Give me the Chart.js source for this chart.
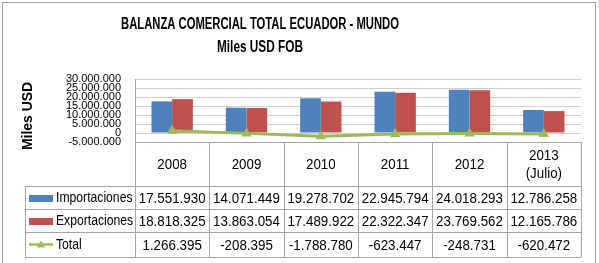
<!DOCTYPE html>
<html><head><meta charset="utf-8">
<script src="https://cdn.jsdelivr.net/npm/chart.js@4.4.0/dist/chart.umd.min.js"></script>
<style>html,body{margin:0;padding:0;background:#fff;overflow:hidden}canvas{display:block}</style>
</head><body>
<canvas id="c" width="599" height="263"></canvas>
<script>
const categories = ['2008', '2009', '2010', '2011', '2012', ['2013', '(Julio)']];
const importaciones = [17551930, 14071449, 19278702, 22945794, 24018293, 12786258];
const exportaciones = [18818325, 13863054, 17489922, 22322347, 23769562, 12165786];
const total = [1266395, -208395, -1788780, -623447, -248731, -620472];
const yTickValues = [-5000000, 0, 5000000, 10000000, 15000000, 20000000, 25000000, 30000000];
const titleLines = ['BALANZA COMERCIAL TOTAL ECUADOR - MUNDO', 'Miles USD FOB'];
const yAxisTitle = 'Miles USD';
const seriesNames = ['Importaciones', 'Exportaciones', 'Total'];
const colors = ['#4F81BD', '#C0504D', '#9BBB59'];

function fmt(v) {
  const s = Math.abs(Math.round(v)).toString().replace(/\B(?=(\d{3})+(?!\d))/g, '.');
  return (v < 0 ? '-' : '') + s;
}

const SANS = '"Liberation Sans", Arial, sans-serif';

function squeezeText(ctx, text, x, y, sx, align) {
  ctx.save();
  ctx.translate(x, y);
  ctx.scale(sx, 1);
  ctx.textAlign = align;
  ctx.fillText(text, 0, 0);
  ctx.restore();
}

const decorPlugin = {
  id: 'decor',
  beforeDraw(chart) {
    const ctx = chart.ctx;
    ctx.save();
    ctx.fillStyle = '#fff';
    ctx.fillRect(0, 0, chart.width, chart.height);
    ctx.restore();
  },
  afterDraw(chart) {
    const ctx = chart.ctx;
    const area = chart.chartArea;
    const xs = chart.scales.x;
    const n = categories.length;
    const step = (area.right - area.left) / n;
    const r0 = Math.round(area.bottom);
    const rows = [r0, r0 + 44, r0 + 67, r0 + 90, r0 + 115];
    const labelLeft = 25;
    const p = v => Math.round(v) + 0.5;

    ctx.save();
    // frame
    ctx.strokeStyle = '#a0a0a0';
    ctx.lineWidth = 1;
    ctx.strokeRect(2.5, 2.5, 593, 300);

    // title
    ctx.fillStyle = '#000';
    ctx.textAlign = 'center';
    ctx.textBaseline = 'middle';
    ctx.font = 'bold 16px ' + SANS;
    ctx.fillText(titleLines[0], 260, 25, 278);
    ctx.fillText(titleLines[1], 260, 48, 86);

    // y axis title
    ctx.save();
    ctx.translate(28, 116);
    ctx.rotate(-Math.PI / 2);
    ctx.font = 'bold 14px ' + SANS;
    ctx.fillText(yAxisTitle, 0, 0, 68);
    ctx.restore();

    // table lines
    ctx.strokeStyle = '#a6a6a6';
    ctx.lineWidth = 1;
    ctx.beginPath();
    ctx.moveTo(area.left, p(rows[0])); ctx.lineTo(area.right, p(rows[0]));
    for (let i = 1; i < rows.length; i++) {
      ctx.moveTo(labelLeft, p(rows[i])); ctx.lineTo(area.right, p(rows[i]));
    }
    for (let k = 0; k <= n; k++) {
      const xk = p(area.left + k * step);
      ctx.moveTo(xk, rows[0]); ctx.lineTo(xk, rows[4] + 0.5);
    }
    ctx.moveTo(p(labelLeft), rows[1]); ctx.lineTo(p(labelLeft), rows[4] + 0.5);
    ctx.stroke();

    // category labels
    ctx.fillStyle = '#000';
    ctx.font = '15px ' + SANS;
    const catMid = (rows[0] + rows[1]) / 2 + 1;
    categories.forEach((c, i) => {
      const cx = xs.getPixelForValue(i);
      if (Array.isArray(c)) {
        squeezeText(ctx, c[0], cx, catMid - 9, 0.89, 'center');
        squeezeText(ctx, c[1], cx, catMid + 9, 0.89, 'center');
      } else {
        squeezeText(ctx, c, cx, catMid, 0.89, 'center');
      }
    });

    // data rows
    const series = [importaciones, exportaciones, total];
    series.forEach((arr, r) => {
      const mid = (rows[r + 1] + rows[r + 2]) / 2 + 1;
      if (r < 2) {
        ctx.fillStyle = colors[r];
        ctx.fillRect(29, Math.round(mid - 4), 24, 7);
      } else {
        ctx.strokeStyle = colors[2];
        ctx.lineWidth = 2.5;
        ctx.beginPath();
        ctx.moveTo(29, mid - 1); ctx.lineTo(53, mid - 1);
        ctx.stroke();
        ctx.fillStyle = colors[2];
        ctx.beginPath();
        ctx.moveTo(41, mid - 5); ctx.lineTo(45, mid + 2); ctx.lineTo(37, mid + 2); ctx.closePath();
        ctx.fill();
      }
      ctx.fillStyle = '#000';
      ctx.font = '14px ' + SANS;
      squeezeText(ctx, seriesNames[r], 56, mid, 0.87, 'left');
      ctx.font = '15px ' + SANS;
      arr.forEach((v, i) => {
        squeezeText(ctx, fmt(v), xs.getPixelForValue(i), mid, 0.89, 'center');
      });
    });
    ctx.restore();
  }
};

new Chart(document.getElementById('c'), {
  type: 'bar',
  data: {
    labels: categories,
    datasets: [
      {
        type: 'line', label: seriesNames[2], data: total,
        borderColor: colors[2], backgroundColor: colors[2], borderWidth: 3,
        pointStyle: 'triangle', pointRadius: 6, pointBorderWidth: 0, tension: 0, order: 0
      },
      {
        label: seriesNames[0], data: importaciones, backgroundColor: colors[0],
        categoryPercentage: 0.556, barPercentage: 1, order: 1
      },
      {
        label: seriesNames[1], data: exportaciones, backgroundColor: colors[1],
        categoryPercentage: 0.556, barPercentage: 1, order: 1
      }
    ]
  },
  options: {
    responsive: false,
    animation: false,
    devicePixelRatio: 1,
    layout: { padding: { left: 18, right: 18, top: 79, bottom: 121 } },
    plugins: { legend: { display: false }, title: { display: false }, tooltip: { enabled: false } },
    scales: {
      x: { display: false, offset: true },
      y: {
        min: -5000000, max: 30000000,
        afterBuildTicks: s => { s.ticks = yTickValues.map(v => ({ value: v })); },
        afterFit: s => { s.width = 117; },
        ticks: { autoSkip: false, padding: 14, color: '#000', font: { family: SANS, size: 11 }, callback: v => fmt(v) },
        grid: { color: '#d0d0d0', lineWidth: 1, drawTicks: false },
        border: { display: true, color: '#a6a6a6' },
        title: { display: false }
      }
    }
  },
  plugins: [decorPlugin]
});
</script>
</body></html>
